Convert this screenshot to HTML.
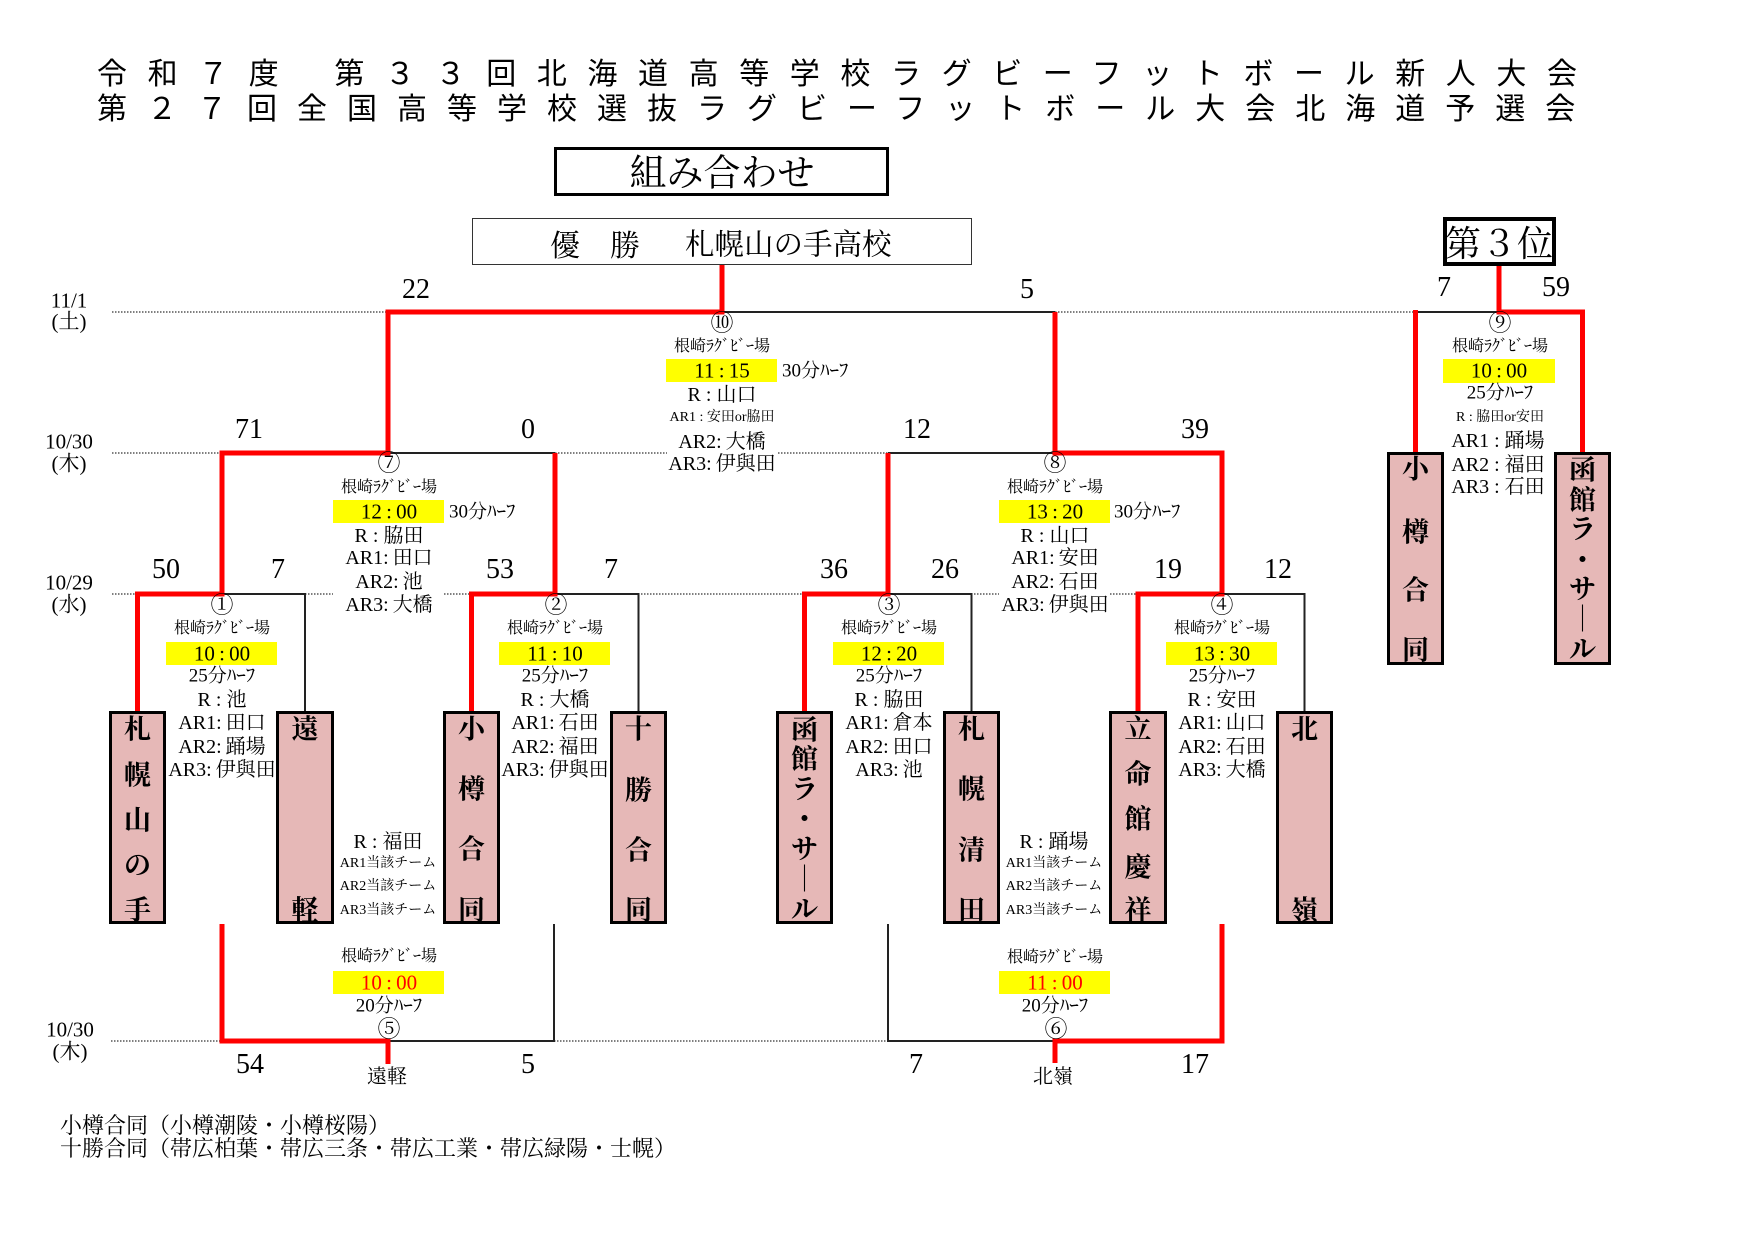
<!DOCTYPE html>
<html><head><meta charset="utf-8">
<style>
body{margin:0;width:1755px;height:1241px;background:#fff;position:relative;overflow:hidden;font-family:"Liberation Serif","Noto Serif CJK SC",serif;color:#000}
.c{position:absolute;transform:translate(-50%,-50%);white-space:nowrap;line-height:1}
.ttl{position:absolute;left:97px;transform:translateY(-50%);white-space:nowrap;line-height:1;font-family:"Noto Sans CJK JP",sans-serif;font-size:30px}
.box{position:absolute;box-sizing:border-box;border:3px solid #000;background:#e6b8b7}
.b{position:absolute;transform:translate(-50%,-50%);line-height:1;font-size:27px;font-weight:bold;font-family:"Noto Serif CJK SC",serif}
.s{font-size:28px}
.d{font-size:21px}
.n{font-size:20px}
.o{font-size:23px}
.v{font-size:16px}
.h{font-size:19px}
.r{font-size:20px}
.m{font-size:14px}
.t{font-size:21px}
</style></head><body>

<div class="ttl" style="top:71px;letter-spacing:20.6px">令和７度<span style="margin-left:35px">第３３回北海道高等学校ラグビーフットボール新人大会</span></div>
<div class="ttl" style="top:106px;letter-spacing:20px">第２７回全国高等学校選抜ラグビーフットボール大会北海道予選会</div>

<div style="position:absolute;left:554px;top:147px;width:335px;height:49px;box-sizing:border-box;border:3px solid #000"></div>
<div class="c" style="left:722px;top:170px;font-size:37px;font-family:'Noto Serif CJK SC',serif">組み合わせ</div>

<div style="position:absolute;left:472px;top:218px;width:500px;height:47px;box-sizing:border-box;border:1.5px solid #333"></div>
<div class="c" style="left:565px;top:243px;font-size:30px;font-family:'Noto Serif CJK SC',serif">優</div>
<div class="c" style="left:625px;top:243px;font-size:30px;font-family:'Noto Serif CJK SC',serif">勝</div>
<div style="position:absolute;left:685px;top:243px;transform:translateY(-50%);line-height:1;white-space:nowrap;font-size:29.5px;font-family:'Noto Serif CJK SC',serif">札幌山の手高校</div>

<div style="position:absolute;left:1443px;top:217px;width:113px;height:49px;box-sizing:border-box;border:4px solid #000;background:#fff"></div>
<div class="c" style="left:1499px;top:242px;font-size:36px;font-family:'Noto Serif CJK SC',serif">第３位</div>

<svg width="1755" height="1241" style="position:absolute;left:0;top:0">
<g stroke="#555" stroke-width="1.5" stroke-dasharray="1.5 1.5">
<line x1="112" y1="312" x2="388" y2="312"/>
<line x1="1055" y1="312" x2="1415" y2="312"/>
<line x1="112" y1="453" x2="222" y2="453"/>
<line x1="555" y1="453" x2="667" y2="453"/>
<line x1="778" y1="453" x2="888" y2="453"/>
<line x1="112" y1="594" x2="138" y2="594"/>
<line x1="305" y1="594" x2="333" y2="594"/>
<line x1="444" y1="594" x2="471" y2="594"/>
<line x1="638" y1="594" x2="805" y2="594"/>
<line x1="971" y1="594" x2="999" y2="594"/>
<line x1="1110" y1="594" x2="1138" y2="594"/>
<line x1="111" y1="1041" x2="222" y2="1041"/>
<line x1="554" y1="1041" x2="888" y2="1041"/>
</g>
<g stroke="#222" stroke-width="2" fill="none">
<polyline points="222,594 305,594 305,711"/>
<polyline points="555,594 638.5,594 638.5,711"/>
<polyline points="888,594 971.5,594 971.5,711"/>
<polyline points="1222,594 1304.5,594 1304.5,711"/>
<line x1="388" y1="453" x2="555" y2="453"/>
<line x1="888" y1="453" x2="1055" y2="453"/>
<line x1="722" y1="312" x2="1055" y2="312"/>
<line x1="1415" y1="312" x2="1499" y2="312"/>
<polyline points="554,924 554,1041 388,1041"/>
<polyline points="888,924 888,1041 1055,1041"/>
</g>
<g stroke="#f00" stroke-width="5" fill="none" stroke-linejoin="miter">
<polyline points="137.5,711 137.5,594 222,594 222,453 388,453 388,312 722,312 722,265"/>
<polyline points="471.5,711 471.5,594 555,594 555,453"/>
<polyline points="804.5,711 804.5,594 888,594 888,453"/>
<polyline points="1138,711 1138,594 1222,594 1222,453 1055,453 1055,312"/>
<line x1="1415.5" y1="310" x2="1415.5" y2="452"/>
<polyline points="1582.5,452 1582.5,312 1499,312 1499,266"/>
<polyline points="222,924 222,1041 388,1041 388,1064"/>
<polyline points="1222,924 1222,1041 1055,1041 1055,1063"/>
</g>
<g fill="#ff0">
<rect x="333" y="500" width="111" height="23"/>
<rect x="666" y="359" width="111" height="23"/>
<rect x="999" y="500" width="111" height="23"/>
<rect x="1443" y="359" width="112" height="24"/>
<rect x="166" y="642" width="111" height="23"/>
<rect x="499" y="642" width="111" height="23"/>
<rect x="833" y="642" width="111" height="23"/>
<rect x="1166" y="642" width="111" height="23"/>
<rect x="333" y="971" width="111" height="23"/>
<rect x="999" y="971" width="111" height="23"/>
</g>
</svg>

<!-- dates -->
<div class="c d" style="left:69px;top:301px">11/1</div>
<div class="c d" style="left:69px;top:322px">(土)</div>
<div class="c d" style="left:69px;top:442px">10/30</div>
<div class="c d" style="left:69px;top:464px">(木)</div>
<div class="c d" style="left:69px;top:583px">10/29</div>
<div class="c d" style="left:69px;top:605px">(水)</div>
<div class="c d" style="left:70px;top:1030px">10/30</div>
<div class="c d" style="left:70px;top:1052px">(木)</div>

<!-- scores -->
<div class="c s" style="left:416px;top:290px">22</div>
<div class="c s" style="left:1027px;top:290px">5</div>
<div class="c s" style="left:1444px;top:288px">7</div>
<div class="c s" style="left:1556px;top:288px">59</div>
<div class="c s" style="left:249px;top:430px">71</div>
<div class="c s" style="left:528px;top:430px">0</div>
<div class="c s" style="left:917px;top:430px">12</div>
<div class="c s" style="left:1195px;top:430px">39</div>
<div class="c s" style="left:166px;top:570px">50</div>
<div class="c s" style="left:278px;top:570px">7</div>
<div class="c s" style="left:500px;top:570px">53</div>
<div class="c s" style="left:611px;top:570px">7</div>
<div class="c s" style="left:834px;top:570px">36</div>
<div class="c s" style="left:945px;top:570px">26</div>
<div class="c s" style="left:1168px;top:570px">19</div>
<div class="c s" style="left:1278px;top:570px">12</div>
<div class="c s" style="left:250px;top:1065px">54</div>
<div class="c s" style="left:528px;top:1065px">5</div>
<div class="c s" style="left:916px;top:1065px">7</div>
<div class="c s" style="left:1195px;top:1065px">17</div>
<div class="c n" style="left:387px;top:1077px">遠軽</div>
<div class="c n" style="left:1053px;top:1077px">北嶺</div>

<!-- block 10 -->
<div class="c o" style="left:722px;top:323px">⑩</div>
<div class="c v" style="left:722px;top:347px">根崎ﾗｸﾞﾋﾞｰ場</div>
<div class="c t" style="left:722px;top:371px">11&thinsp;:&thinsp;15</div>
<div class="c h" style="left:782px;top:371px;transform:translate(0,-50%)">30分ﾊｰﾌ</div>
<div class="c r" style="left:722px;top:395px">R : 山口</div>
<div class="c m" style="left:722px;top:418px">AR1 : 安田or脇田</div>
<div class="c r" style="left:722px;top:442px">AR2:&thinsp;大橋</div>
<div class="c r" style="left:722px;top:464px">AR3:&thinsp;伊與田</div>

<!-- block 7 -->
<div class="c o" style="left:389px;top:463px">⑦</div>
<div class="c v" style="left:389px;top:488px">根崎ﾗｸﾞﾋﾞｰ場</div>
<div class="c t" style="left:389px;top:512px">12&thinsp;:&thinsp;00</div>
<div class="c h" style="left:449px;top:512px;transform:translate(0,-50%)">30分ﾊｰﾌ</div>
<div class="c r" style="left:389px;top:536px">R : 脇田</div>
<div class="c r" style="left:389px;top:558px">AR1:&thinsp;田口</div>
<div class="c r" style="left:389px;top:582px">AR2:&thinsp;池</div>
<div class="c r" style="left:389px;top:605px">AR3:&thinsp;大橋</div>

<!-- block 8 -->
<div class="c o" style="left:1055px;top:463px">⑧</div>
<div class="c v" style="left:1055px;top:488px">根崎ﾗｸﾞﾋﾞｰ場</div>
<div class="c t" style="left:1055px;top:512px">13&thinsp;:&thinsp;20</div>
<div class="c h" style="left:1114px;top:512px;transform:translate(0,-50%)">30分ﾊｰﾌ</div>
<div class="c r" style="left:1055px;top:536px">R : 山口</div>
<div class="c r" style="left:1055px;top:558px">AR1:&thinsp;安田</div>
<div class="c r" style="left:1055px;top:582px">AR2:&thinsp;石田</div>
<div class="c r" style="left:1055px;top:605px">AR3:&thinsp;伊與田</div>

<!-- block 9 -->
<div class="c o" style="left:1500px;top:323px">⑨</div>
<div class="c v" style="left:1500px;top:347px">根崎ﾗｸﾞﾋﾞｰ場</div>
<div class="c t" style="left:1499px;top:371px">10&thinsp;:&thinsp;00</div>
<div class="c h" style="left:1500px;top:393px">25分ﾊｰﾌ</div>
<div class="c m" style="left:1500px;top:418px">R : 脇田or安田</div>
<div class="c r" style="left:1498px;top:441px">AR1 : 踊場</div>
<div class="c r" style="left:1498px;top:465px">AR2 : 福田</div>
<div class="c r" style="left:1498px;top:487px">AR3 : 石田</div>

<!-- block 1 -->
<div class="c o" style="left:222px;top:605px">①</div>
<div class="c v" style="left:222px;top:629px">根崎ﾗｸﾞﾋﾞｰ場</div>
<div class="c t" style="left:222px;top:654px">10&thinsp;:&thinsp;00</div>
<div class="c h" style="left:222px;top:676px">25分ﾊｰﾌ</div>
<div class="c r" style="left:222px;top:700px">R : 池</div>
<div class="c r" style="left:222px;top:723px">AR1:&thinsp;田口</div>
<div class="c r" style="left:222px;top:747px">AR2:&thinsp;踊場</div>
<div class="c r" style="left:222px;top:770px">AR3:&thinsp;伊與田</div>

<!-- block 2 -->
<div class="c o" style="left:556px;top:605px">②</div>
<div class="c v" style="left:555px;top:629px">根崎ﾗｸﾞﾋﾞｰ場</div>
<div class="c t" style="left:555px;top:654px">11&thinsp;:&thinsp;10</div>
<div class="c h" style="left:555px;top:676px">25分ﾊｰﾌ</div>
<div class="c r" style="left:555px;top:700px">R : 大橋</div>
<div class="c r" style="left:555px;top:723px">AR1:&thinsp;石田</div>
<div class="c r" style="left:555px;top:747px">AR2:&thinsp;福田</div>
<div class="c r" style="left:555px;top:770px">AR3:&thinsp;伊與田</div>

<!-- block 3 -->
<div class="c o" style="left:889px;top:605px">③</div>
<div class="c v" style="left:889px;top:629px">根崎ﾗｸﾞﾋﾞｰ場</div>
<div class="c t" style="left:889px;top:654px">12&thinsp;:&thinsp;20</div>
<div class="c h" style="left:889px;top:676px">25分ﾊｰﾌ</div>
<div class="c r" style="left:889px;top:700px">R : 脇田</div>
<div class="c r" style="left:889px;top:723px">AR1:&thinsp;倉本</div>
<div class="c r" style="left:889px;top:747px">AR2:&thinsp;田口</div>
<div class="c r" style="left:889px;top:770px">AR3:&thinsp;池</div>

<!-- block 4 -->
<div class="c o" style="left:1222px;top:605px">④</div>
<div class="c v" style="left:1222px;top:629px">根崎ﾗｸﾞﾋﾞｰ場</div>
<div class="c t" style="left:1222px;top:654px">13&thinsp;:&thinsp;30</div>
<div class="c h" style="left:1222px;top:676px">25分ﾊｰﾌ</div>
<div class="c r" style="left:1222px;top:700px">R : 安田</div>
<div class="c r" style="left:1222px;top:723px">AR1:&thinsp;山口</div>
<div class="c r" style="left:1222px;top:747px">AR2:&thinsp;石田</div>
<div class="c r" style="left:1222px;top:770px">AR3:&thinsp;大橋</div>

<!-- referees for 5 / 6 -->
<div class="c r" style="left:388px;top:842px">R : 福田</div>
<div class="c m" style="left:388px;top:864px">AR1当該チーム</div>
<div class="c m" style="left:388px;top:887px">AR2当該チーム</div>
<div class="c m" style="left:388px;top:911px">AR3当該チーム</div>
<div class="c r" style="left:1054px;top:842px">R : 踊場</div>
<div class="c m" style="left:1054px;top:864px">AR1当該チーム</div>
<div class="c m" style="left:1054px;top:887px">AR2当該チーム</div>
<div class="c m" style="left:1054px;top:911px">AR3当該チーム</div>

<!-- block 5 -->
<div class="c v" style="left:389px;top:957px">根崎ﾗｸﾞﾋﾞｰ場</div>
<div class="c t" style="left:389px;top:983px;color:#f00">10&thinsp;:&thinsp;00</div>
<div class="c h" style="left:389px;top:1006px">20分ﾊｰﾌ</div>
<div class="c o" style="left:389px;top:1029px">⑤</div>

<!-- block 6 -->
<div class="c v" style="left:1055px;top:958px">根崎ﾗｸﾞﾋﾞｰ場</div>
<div class="c t" style="left:1055px;top:983px;color:#f00">11&thinsp;:&thinsp;00</div>
<div class="c h" style="left:1055px;top:1006px">20分ﾊｰﾌ</div>
<div class="c o" style="left:1056px;top:1029px">⑥</div>

<!-- team boxes -->
<div class="box" style="left:109px;top:711px;width:57px;height:213px"></div>
<div class="b" style="left:137.5px;top:727px">札</div>
<div class="b" style="left:137.5px;top:773px">幌</div>
<div class="b" style="left:137.5px;top:818px">山</div>
<div class="b" style="left:137.5px;top:863px">の</div>
<div class="b" style="left:137.5px;top:908px">手</div>

<div class="box" style="left:276px;top:711px;width:58px;height:213px"></div>
<div class="b" style="left:305px;top:727px">遠</div>
<div class="b" style="left:305px;top:908px">軽</div>

<div class="box" style="left:443px;top:711px;width:57px;height:213px"></div>
<div class="b" style="left:471.5px;top:727px">小</div>
<div class="b" style="left:471.5px;top:787px">樽</div>
<div class="b" style="left:471.5px;top:847px">合</div>
<div class="b" style="left:471.5px;top:908px">同</div>

<div class="box" style="left:610px;top:711px;width:57px;height:213px"></div>
<div class="b" style="left:638.5px;top:727px">十</div>
<div class="b" style="left:638.5px;top:788px">勝</div>
<div class="b" style="left:638.5px;top:848px">合</div>
<div class="b" style="left:638.5px;top:908px">同</div>

<div class="box" style="left:776px;top:711px;width:57px;height:213px"></div>
<div class="b" style="left:804.5px;top:728px">函</div>
<div class="b" style="left:804.5px;top:757px">館</div>
<div class="b" style="left:804.5px;top:787px">ラ</div>
<div class="b" style="left:804.5px;top:817px">・</div>
<div class="b" style="left:804.5px;top:847px">サ</div>
<div class="b" style="left:804.5px;top:877px">｜</div>
<div class="b" style="left:804.5px;top:907px">ル</div>

<div class="box" style="left:943px;top:711px;width:57px;height:213px"></div>
<div class="b" style="left:971.5px;top:727px">札</div>
<div class="b" style="left:971.5px;top:787px">幌</div>
<div class="b" style="left:971.5px;top:848px">清</div>
<div class="b" style="left:971.5px;top:908px">田</div>

<div class="box" style="left:1109px;top:711px;width:58px;height:213px"></div>
<div class="b" style="left:1138px;top:727px">立</div>
<div class="b" style="left:1138px;top:772px">命</div>
<div class="b" style="left:1138px;top:817px">館</div>
<div class="b" style="left:1138px;top:865px">慶</div>
<div class="b" style="left:1138px;top:908px">祥</div>

<div class="box" style="left:1276px;top:711px;width:57px;height:213px"></div>
<div class="b" style="left:1304.5px;top:727px">北</div>
<div class="b" style="left:1304.5px;top:908px">嶺</div>

<div class="box" style="left:1387px;top:452px;width:57px;height:213px"></div>
<div class="b" style="left:1415.5px;top:467px">小</div>
<div class="b" style="left:1415.5px;top:530px">樽</div>
<div class="b" style="left:1415.5px;top:588px">合</div>
<div class="b" style="left:1415.5px;top:648px">同</div>

<div class="box" style="left:1554px;top:452px;width:57px;height:213px"></div>
<div class="b" style="left:1582.5px;top:468px">函</div>
<div class="b" style="left:1582.5px;top:498px">館</div>
<div class="b" style="left:1582.5px;top:527px">ラ</div>
<div class="b" style="left:1582.5px;top:558px">・</div>
<div class="b" style="left:1582.5px;top:587px">サ</div>
<div class="b" style="left:1582.5px;top:617px">｜</div>
<div class="b" style="left:1582.5px;top:647px">ル</div>

<!-- footnotes -->
<div style="position:absolute;left:60px;top:1125px;transform:translateY(-50%);line-height:1;white-space:nowrap;font-size:22px;font-family:'Noto Serif CJK SC',serif">小樽合同（小樽潮陵・小樽桜陽）</div>
<div style="position:absolute;left:60px;top:1148px;transform:translateY(-50%);line-height:1;white-space:nowrap;font-size:22px;font-family:'Noto Serif CJK SC',serif">十勝合同（帯広柏葉・帯広三条・帯広工業・帯広緑陽・士幌）</div>

</body></html>
